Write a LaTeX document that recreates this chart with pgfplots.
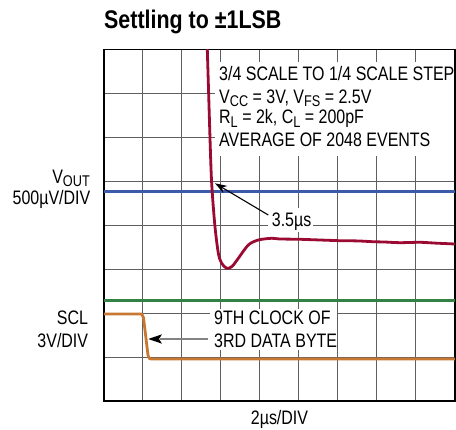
\documentclass[border=0pt]{standalone}
\usepackage{pgfplots}
\pgfplotsset{compat=1.18}
\usetikzlibrary{arrows.meta}
\usepackage{fontspec}
\setmainfont{Liberation Sans}[FakeStretch=0.82]
\newfontfamily\titlefont{Liberation Sans}[FakeStretch=0.84]
\definecolor{vred}{RGB}{155,10,50}
\definecolor{vblue}{RGB}{60,90,170}
\definecolor{vgreen}{RGB}{50,130,70}
\definecolor{vorange}{RGB}{200,120,50}
\definecolor{gridgray}{RGB}{95,95,95}
\newcommand{\sub}[1]{\raisebox{-3.5bp}{\fontsize{15.5bp}{16bp}\selectfont #1}}
\newcommand{\txt}{\fontsize{19.5bp}{22bp}\selectfont}
\begin{document}
\begin{tikzpicture}
\useasboundingbox (-104bp,-28.7bp) rectangle (352bp,401.3bp);
\begin{axis}[at={(0,0)},anchor=south west,scale only axis,
  width=351bp,height=352bp,
  xmin=0,xmax=9,ymin=0,ymax=8,
  xtick={0,...,9},ytick={0,...,8},
  xticklabels={},yticklabels={},
  tick style={draw=none},
  grid=major,
  grid style={line width=1bp,draw=gridgray},
  axis line style={line width=1.6bp,black},
]
\addplot[vblue,line width=2.8bp] coordinates {(0,4.764) (9,4.764)};
\addplot[vgreen,line width=2.8bp] coordinates {(0,2.286) (9,2.286)};
\addplot[vorange,line width=2.8bp,line join=round] coordinates {
(0,1.984) (0.967,1.984) (1.013,1.90) (1.128,1.05) (1.16,0.975) (1.205,0.961) (9,0.961)};
\addplot[vred,line width=2.8bp,smooth,tension=0.5] coordinates {
(2.639,8.3) (2.736,5.484) (2.777,4.734) (2.846,3.968) (2.931,3.370)
(3.013,3.143) (3.146,3.023) (3.282,3.064) (3.444,3.25) (3.700,3.552)
(3.956,3.666) (4.300,3.705) (4.513,3.689) (5.026,3.682) (5.538,3.666)
(6.051,3.650) (6.5,3.645) (6.897,3.627) (7.2,3.62) (7.590,3.605)
(8.103,3.614) (8.5,3.595) (9.0,3.575)};
\end{axis}
% white backgrounds for annotations
\fill[white] (111bp,245.3bp) rectangle (349.5bp,339.3bp);
\fill[white] (164bp,169.3bp) rectangle (209bp,193.3bp);
\fill[white] (106bp,51.3bp) rectangle (233bp,92.3bp);
% title
\node[anchor=base west,inner sep=0pt] at (0bp,373bp) {\titlefont\bfseries\fontsize{25.5bp}{28bp}\selectfont Settling to ±1LSB};
% left labels
\node[anchor=base east,inner sep=0pt] at (-14bp,218bp) {\txt V\sub{OUT}};
\node[anchor=base east,inner sep=0pt] at (-13.5bp,197bp) {\txt 500µV/DIV};
\node[anchor=base east,inner sep=0pt] at (-15.7bp,76.3bp) {\txt SCL};
\node[anchor=base east,inner sep=0pt] at (-15.7bp,54bp) {\txt 3V/DIV};
% x label
\node[anchor=base,inner sep=0pt] at (175.5bp,-23.5bp) {\txt 2µs/DIV};
% info box
\node[anchor=base west,inner sep=0pt] at (115bp,320.3bp) {\txt 3/4 SCALE TO 1/4 SCALE STEP};
\node[anchor=base west,inner sep=0pt] at (115bp,298bp) {\txt V\sub{CC} = 3V, V\sub{FS} = 2.5V};
\node[anchor=base west,inner sep=0pt] at (115bp,277.3bp) {\txt R\sub{L} = 2k, C\sub{L} = 200pF};
\node[anchor=base west,inner sep=0pt] at (115bp,254.6bp) {\txt AVERAGE OF 2048 EVENTS};
% 3.5us annotation
\node[anchor=base west,inner sep=0pt] at (167.7bp,174.6bp) {\txt 3.5µs};
\draw[black,line width=1.1bp,-{Stealth[length=12bp,width=8bp]}] (164.3bp,186.3bp) -- (111bp,218bp);
% SCL annotation
\node[anchor=base west,inner sep=0pt] at (110bp,76.3bp) {\txt 9TH CLOCK OF};
\node[anchor=base west,inner sep=0pt] at (110bp,53.6bp) {\txt 3RD DATA BYTE};
\draw[draw={rgb,255:red,130;green,130;blue,130},line width=1.4bp] (104bp,62.3bp) -- (56bp,62.3bp);
\fill[black] (44.3bp,62.3bp) -- (58bp,67bp) -- (55bp,62.3bp) -- (58bp,57.6bp) -- cycle;
\end{tikzpicture}
\end{document}
